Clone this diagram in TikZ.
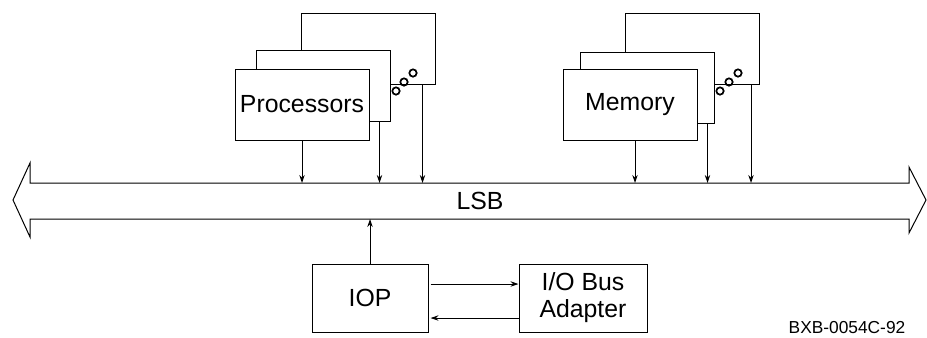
\documentclass[tikz,border=0pt]{standalone}
\usepackage{fontspec}
\setmainfont{Liberation Sans}
\usetikzlibrary{arrows.meta}
\tikzset{
  unitbox/.style={draw, fill=white, line width=0.75pt, inner sep=0pt,
    minimum width=100.5pt, minimum height=53.25pt,
    font=\fontsize{18.6}{20.3}\selectfont},
  iobox/.style={draw, fill=white, line width=0.75pt, inner sep=0pt,
    minimum height=51pt, align=center,
    font=\fontsize{18.6}{20.3}\selectfont},
  sigarrow/.style={-{Stealth[length=6pt,width=4pt]}, line width=0.75pt},
  dotring/.style={draw, circle, line width=1.3pt, minimum size=5.5pt, inner sep=0pt}
}
\begin{document}
\begin{tikzpicture}[x=0.75pt,y=0.75pt,yscale=-1,xscale=1]
\useasboundingbox (0,0) rectangle (927,337);
%Shape: Bus Arrow [id:lsb]
\draw [line width=0.75pt] (13,200) -- (30,163) -- (30,183) -- (909,183) -- (909,167) -- (926,200) -- (909,233) -- (909,219) -- (30,219) -- (30,237) -- cycle ;
\coordinate (lsbtop) at (480,183);
\coordinate (lsbbot) at (480,219);
% Text Node
\node [font=\fontsize{18.6}{20.3}\selectfont] (lsb) at (480,201) {LSB};

%Shape: Processor Stack
\node [unitbox] (proc3) at (368,48.5) {};
\node [unitbox] (proc2) at (323,85.5) {};
\node [unitbox] (proc1) at (302,104.5) {Processors};
\node [dotring] (pdot1) at (396,91) {};
\node [dotring] (pdot2) at (404,82) {};
\node [dotring] (pdot3) at (413,73) {};

%Shape: Memory Stack
\node [unitbox] (mem3) at (692.5,48.5) {};
\node [unitbox] (mem2) at (647,87.5) {};
\node [unitbox] (mem1) at (630,105) {Memory};
\node [dotring] (mdot1) at (720,91) {};
\node [dotring] (mdot2) at (729,82) {};
\node [dotring] (mdot3) at (738,73) {};

%Straight Lines: into the bus
\draw [sigarrow] (proc1.south) -- (proc1.south |- lsbtop) ;
\draw [sigarrow] ([xshift=-8.25pt]proc2.south east) -- ([xshift=-8.25pt]proc2.south east |- lsbtop) ;
\draw [sigarrow] ([xshift=-9.75pt]proc3.south east) -- ([xshift=-9.75pt]proc3.south east |- lsbtop) ;
\draw [sigarrow] ([xshift=3.75pt]mem1.south) -- ([xshift=3.75pt]mem1.south |- lsbtop) ;
\draw [sigarrow] ([xshift=-5.25pt]mem2.south east) -- ([xshift=-5.25pt]mem2.south east |- lsbtop) ;
\draw [sigarrow] ([xshift=-6.75pt]mem3.south east) -- ([xshift=-6.75pt]mem3.south east |- lsbtop) ;

%Shape: IO side
\node [iobox, minimum width=87pt] (iop) at (370,298) {IOP};
\node [iobox, minimum width=96pt] (ioba) at (583,298) {I/O Bus\\Adapter};
\draw [sigarrow] (iop.north) -- (iop.north |- lsbbot) ;
\draw [sigarrow] ([xshift=1.5pt,yshift=-10.5pt]iop.east) -- ([yshift=-10.5pt]iop.east -| ioba.west) ;
\draw [sigarrow] ([yshift=15pt]ioba.west) -- ([xshift=1.5pt,yshift=15pt]ioba.west -| iop.east) ;

% Text Node
\node [font=\fontsize{13}{15}\selectfont] (figid) at (847,328) {BXB-0054C-92};
\end{tikzpicture}
\end{document}
